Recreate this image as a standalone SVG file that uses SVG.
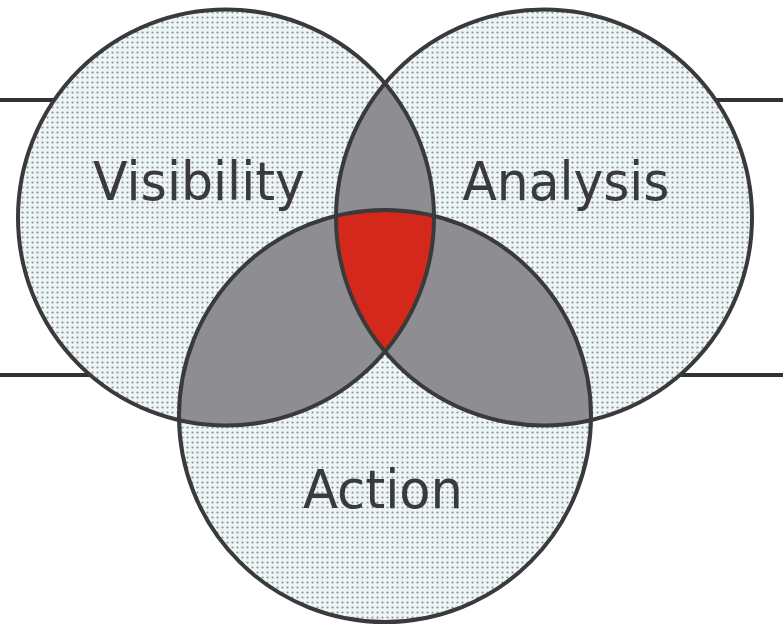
<svg xmlns="http://www.w3.org/2000/svg" width="783" height="625" viewBox="0 0 783 625">
  <defs>
    <pattern id="dots" x="0" y="0" width="5" height="5" patternUnits="userSpaceOnUse">
      <rect width="5" height="5" fill="#eef5f7"/>
      <circle cx="2.5" cy="2.5" r="1.1" fill="#8a9297"/>
    </pattern>
    <style>
      .link { stroke: #333; stroke-width: 4; fill: none; }
      .disc { fill: url(#dots); stroke: none; }
      .ring { fill: none; stroke: #3a3a3a; stroke-width: 4; }
      .pair { fill: #8e8e92; stroke: none; }
      .core { fill: #d4281c; stroke: none; }
      .label { font-family: "DejaVu Sans", Verdana, sans-serif; font-size: 54px; fill: #3a3a3a; text-anchor: middle; }
    </style>
  </defs>

  <!-- side rails -->
  <g id="connectors">
    <line class="link" x1="0" y1="100" x2="60" y2="100"/>
    <line class="link" x1="0" y1="375" x2="92" y2="375"/>
    <line class="link" x1="708" y1="100" x2="783" y2="100"/>
    <line class="link" x1="678" y1="375" x2="783" y2="375"/>
  </g>

  <!-- circle fills -->
  <g id="visibility">
    <circle class="disc" cx="226" cy="217.5" r="208"/>
  </g>
  <g id="analysis">
    <circle class="disc" cx="544" cy="217.5" r="208"/>
  </g>
  <g id="action">
    <circle class="disc" cx="385" cy="416" r="206"/>
  </g>

  <!-- pairwise overlaps -->
  <g id="overlaps">
    <path class="pair" d="M385,83.4 A208,208 0 0 1 385,351.6 A208,208 0 0 1 385,83.4 Z"/>
    <path class="pair" d="M434,215.9 A208,208 0 0 1 179,420.1 A206,206 0 0 1 434,215.9 Z"/>
    <path class="pair" d="M336,215.9 A206,206 0 0 1 591,420.1 A208,208 0 0 1 336,215.9 Z"/>
  </g>

  <!-- triple overlap -->
  <g id="center">
    <path class="core" d="M336,215.9 A206,206 0 0 1 434,215.9 A208,208 0 0 1 385,351.6 A208,208 0 0 1 336,215.9 Z"/>
  </g>

  <!-- outlines -->
  <g id="outlines">
    <circle class="ring" cx="226" cy="217.5" r="208"/>
    <circle class="ring" cx="544" cy="217.5" r="208"/>
    <circle class="ring" cx="385" cy="416" r="206"/>
  </g>

  <g id="labels">
    <text class="label" x="199" y="200" textLength="212" lengthAdjust="spacingAndGlyphs">Visibility</text>
    <text class="label" x="566" y="200" textLength="207" lengthAdjust="spacingAndGlyphs">Analysis</text>
    <text class="label" x="383" y="508" textLength="160" lengthAdjust="spacingAndGlyphs">Action</text>
  </g>
</svg>
